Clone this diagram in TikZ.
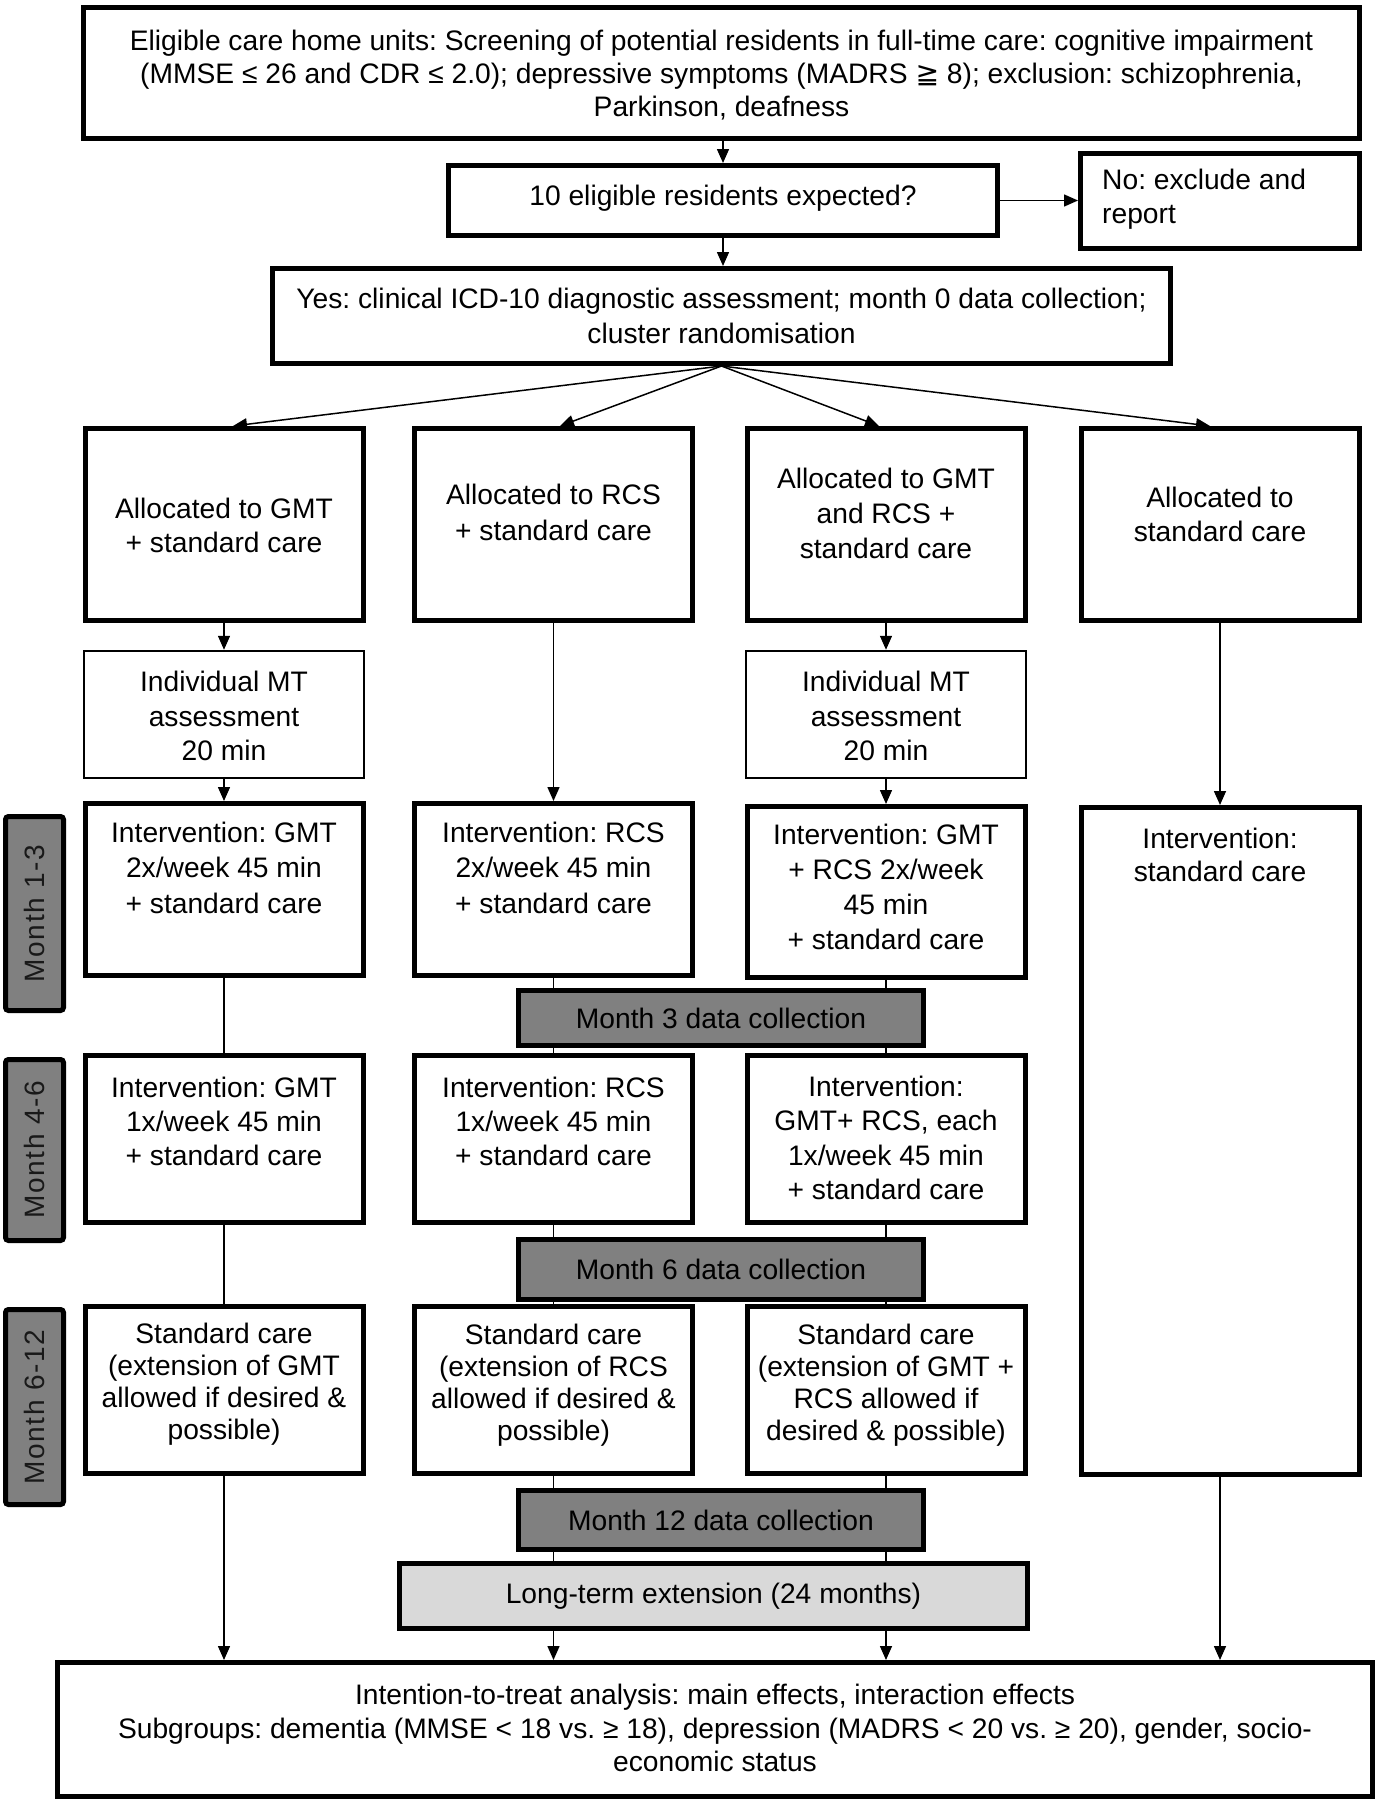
\documentclass[tikz,border=0pt]{standalone}
\usepackage{fontspec}
\setmainfont{Liberation Sans}
\newfontfamily\djv{DejaVu Sans}
\newfontfamily\lblfont[LetterSpace=6]{Liberation Sans}
\usetikzlibrary{arrows.meta}
\definecolor{dcgray}{HTML}{808080}
\definecolor{ltgray}{HTML}{D9D9D9}
\frenchspacing
\begin{document}
\frenchspacing
\begin{tikzpicture}[x=1pt,y=-1pt,
  box/.style={draw, line width=5pt, fill=white, inner sep=0pt, rectangle},
  thinbox/.style={draw, line width=2.5pt, fill=white, inner sep=0pt, rectangle},
  ls/.style={font=\fontsize{28.2}{#1}\selectfont\frenchspacing},
  txt/.style={align=center, inner sep=0pt, ls=34},
  arr/.style={line width=1.5pt, -{Triangle[length=14pt,width=12pt]}},
  ln/.style={line width=1.5pt},
  dc/.style={draw, line width=5pt, fill=dcgray, inner sep=0pt, ls=34},
  lt/.style={draw, line width=5pt, fill=ltgray, inner sep=0pt, ls=34},
  mlab/.style={draw, line width=5pt, fill=dcgray, rounded corners=3pt, inner sep=0pt, minimum width=58pt},
  mtxt/.style={rotate=90, inner sep=0pt, font=\lblfont\fontsize{28}{34}\selectfont, text=black!90}]
\useasboundingbox (0,0) rectangle (1378,1800);

% top part
\node[box, minimum width=1276pt, minimum height=131pt] (top) at (721.5,73) {};
\node[txt, ls=33] (ttop) at (721.5,75.5) {Eligible care home units: Screening of potential residents in full-time care: cognitive impairment\\(MMSE ≤ 26 and CDR ≤ 2.0); depressive symptoms (MADRS {\djv ≧} 8); exclusion: schizophrenia,\\Parkinson, deafness};

\node[box, minimum width=549pt, minimum height=70pt] (q) at (723,200.5) {};
\node[txt] (tq) at (723,198) {10 eligible residents expected?};

\node[box, minimum width=279pt, minimum height=95pt] (no) at (1220,201) {};
\node[txt, align=left, anchor=west] (tno) at (1102,199.5) {No: exclude and\\report};

\node[box, minimum width=898pt, minimum height=95pt] (yes) at (721.5,316) {};
\node[txt, ls=35] (tyes) at (721.5,316) {Yes: clinical ICD-10 diagnostic assessment; month 0 data collection;\\cluster randomisation};

% allocation row
\node[box, minimum width=278pt, minimum height=192pt] (a1) at (224,524.5) {};
\node[box, minimum width=278pt, minimum height=192pt] (a2) at (553.5,524.5) {};
\node[box, minimum width=278pt, minimum height=192pt] (a3) at (886,524.5) {};
\node[box, minimum width=278pt, minimum height=192pt] (a4) at (1220,524.5) {};
\node[txt] (ta1) at (224,525.5) {Allocated to GMT\\+ standard care};
\node[txt, ls=36] (ta2) at (553.5,512) {Allocated to RCS\\+ standard care};
\node[txt, ls=35] (ta3) at (886,513.5) {Allocated to GMT\\and RCS +\\standard care};
\node[txt] (ta4) at (1220,514) {Allocated to\\standard care};

% MT assessment
\node[thinbox, minimum width=280pt, minimum height=127pt] (m1) at (224,714.5) {};
\node[thinbox, minimum width=280pt, minimum height=127pt] (m3) at (886,714.5) {};
\node[txt, ls=34.5] (tm1) at (224,716) {Individual MT\\assessment\\20 min};
\node[txt, ls=34.5] (tm3) at (886,716) {Individual MT\\assessment\\20 min};

% intervention month 1-3
\node[box, minimum width=278pt, minimum height=172pt] (i1) at (224,889.5) {};
\node[box, minimum width=278pt, minimum height=172pt] (i2) at (553.5,889.5) {};
\node[box, minimum width=278pt, minimum height=171pt] (i3) at (886,892) {};
\node[box, minimum width=278pt, minimum height=667pt] (i4) at (1220,1141) {};
\node[txt, ls=35.5] (ti1) at (224,867.7) {Intervention: GMT\\2x/week 45 min\\+ standard care};
\node[txt, ls=35.5] (ti2) at (553.5,867.7) {Intervention: RCS\\2x/week 45 min\\+ standard care};
\node[txt, ls=34.8] (ti3) at (886,887) {Intervention: GMT\\+ RCS 2x/week\\45 min\\+ standard care};
\node[txt, ls=33] (ti4) at (1220,855) {Intervention:\\standard care};

% month 4-6
\node[box, minimum width=278pt, minimum height=167pt] (r1) at (224,1139) {};
\node[box, minimum width=278pt, minimum height=167pt] (r2) at (553.5,1139) {};
\node[box, minimum width=278pt, minimum height=167pt] (r3) at (886,1139) {};
\node[txt] (tr1) at (224,1121) {Intervention: GMT\\1x/week 45 min\\+ standard care};
\node[txt] (tr2) at (553.5,1121) {Intervention: RCS\\1x/week 45 min\\+ standard care};
\node[txt, ls=34.3] (tr3) at (886,1138) {Intervention:\\GMT+ RCS, each\\1x/week 45 min\\+ standard care};

% month 6-12
\node[box, minimum width=278pt, minimum height=167pt] (s1) at (224,1390) {};
\node[box, minimum width=278pt, minimum height=167pt] (s2) at (553.5,1390) {};
\node[box, minimum width=278pt, minimum height=167pt] (s3) at (886,1390) {};
\node[txt, ls=32] (ts1) at (224,1384.5) {Standard care\\(extension of GMT\\allowed if desired \&\\possible)};
\node[txt, ls=32] (ts2) at (553.5,1385.5) {Standard care\\(extension of RCS\\allowed if desired \&\\possible)};
\node[txt, ls=32] (ts3) at (886,1385.5) {Standard care\\(extension of GMT +\\RCS allowed if\\desired \& possible)};

% bottom
\node[box, minimum width=1315pt, minimum height=134pt] (bot) at (715,1729.5) {};
\node[txt, ls=33.5] (tbot) at (715,1728) {Intention-to-treat analysis: main effects, interaction effects\\Subgroups: dementia (MMSE < 18 vs. ≥ 18), depression (MADRS < 20 vs. ≥ 20), gender, socio-\\economic status};

% month labels
\node[mlab, minimum height=194pt] (ml1) at (34.5,913.5) {};
\node[mlab, minimum height=181pt] (ml2) at (34.5,1150) {};
\node[mlab, minimum height=195pt] (ml3) at (34.5,1407) {};
\node[mtxt] (tml1) at (34.5,913.5) {Month 1-3};
\node[mtxt] (tml2) at (34.5,1150) {Month 4-6};
\node[mtxt] (tml3) at (34.5,1407) {Month 6-12};

% connectors
\draw[arr] (top.south -| q.north) -- (q.north);
\draw[arr] (q.south) -- (yes.north -| q.south);
\draw[arr] (q.east) -- (no.west |- q.east);
\draw[arr] (yes.south) -- ([xshift=9pt]a1.north);
\draw[arr] (yes.south) -- ([xshift=6.5pt]a2.north);
\draw[arr] (yes.south) -- ([xshift=-7pt]a3.north);
\draw[arr] (yes.south) -- ([xshift=-10pt]a4.north);
\draw[arr] (a1.south) -- (m1.north);
\draw[arr] (m1.south) -- (i1.north);
\draw[arr] (a2.south) -- (i2.north);
\draw[arr] (a3.south) -- (m3.north);
\draw[arr] (m3.south) -- (i3.north);
\draw[arr] (a4.south) -- (i4.north);
\draw[ln] (i1.south) -- (r1.north);
\draw[ln] (r1.south) -- (s1.north);
\draw[ln] (i2.south) -- (r2.north);
\draw[ln] (r2.south) -- (s2.north);
\draw[ln] (i3.south) -- (r3.north);
\draw[ln] (r3.south) -- (s3.north);
\draw[arr] (s1.south) -- (bot.north -| s1.south);
\draw[arr] (s2.south) -- (bot.north -| s2.south);
\draw[arr] (s3.south) -- (bot.north -| s3.south);
\draw[arr] (i4.south) -- (bot.north -| i4.south);

% data collection boxes (drawn over the lines)
\node[dc, minimum width=405pt, minimum height=55pt] (d3) at (721,1018) {Month 3 data collection};
\node[dc, minimum width=405pt, minimum height=60pt] (d6) at (721,1269.5) {Month 6 data collection};
\node[dc, minimum width=405pt, minimum height=59pt] (d12) at (721,1520) {Month 12 data collection};
\node[lt, minimum width=628pt, minimum height=65pt] (ltx) at (713.5,1596) {Long-term extension (24 months)};
\end{tikzpicture}
\end{document}
